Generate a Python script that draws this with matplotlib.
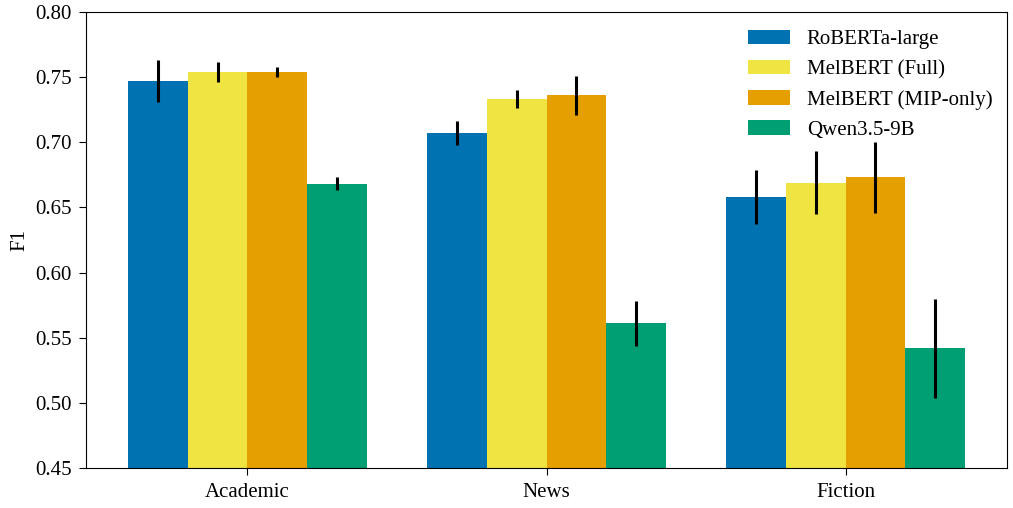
import numpy as np
import matplotlib
matplotlib.use("Agg")
import matplotlib.pyplot as plt

plt.rcParams['font.family'] = ['Liberation Serif', 'DejaVu Serif']

genres = ['Academic', 'News', 'Fiction']
models = ['RoBERTa-large', 'MelBERT (Full)', 'MelBERT (MIP-only)', 'Qwen3.5-9B']
colors = ['#0072b2', '#f0e442', '#e69f00', '#009e73']

# mean F1 per genre, one list per model
roberta = [0.747, 0.707, 0.658]
melbert_full = [0.754, 0.733, 0.669]
melbert_mip = [0.754, 0.736, 0.673]
qwen = [0.668, 0.561, 0.542]

# error bar half widths
roberta_err = [0.016, 0.009, 0.021]
melbert_full_err = [0.008, 0.007, 0.024]
melbert_mip_err = [0.004, 0.015, 0.027]
qwen_err = [0.005, 0.017, 0.038]

means = [roberta, melbert_full, melbert_mip, qwen]
errs = [roberta_err, melbert_full_err, melbert_mip_err, qwen_err]

fig = plt.figure(figsize=(10.13, 5.08), dpi=100)
ax = fig.add_axes([86 / 1013, 40 / 508, 921 / 1013, 456 / 508])

x = np.arange(len(genres))
width = 0.2
for i, (m, e) in enumerate(zip(means, errs)):
    ax.bar(x + (i - 1.5) * width, m, width, yerr=e, color=colors[i],
           label=models[i], error_kw=dict(elinewidth=2.2, ecolor='black', capsize=0))

ax.set_ylim(0.45, 0.80)
ax.set_xticks(x)
ax.set_xticklabels(genres, fontsize=15)
ax.tick_params(axis='both', labelsize=15, length=5, pad=5.5)
ax.set_yticks(np.arange(0.45, 0.801, 0.05))
ax.set_ylabel('F1', fontsize=15)
ax.legend(frameon=False, fontsize=15, loc='upper right', borderaxespad=0.3,
          bbox_to_anchor=(1.0, 0.993))

fig.savefig('out.png', dpi=100)
